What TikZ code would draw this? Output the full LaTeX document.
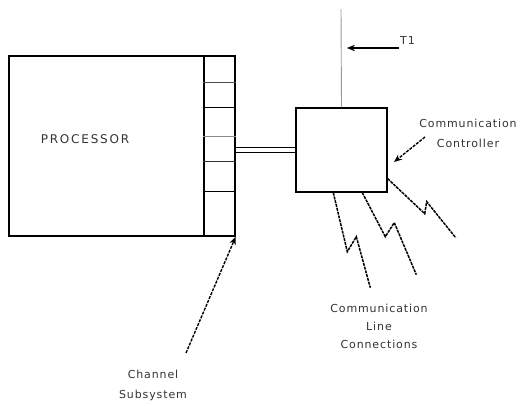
\documentclass[tikz,border=0pt]{standalone}
\usepackage{fontspec}
\setmainfont{DejaVu Sans}
\newfontfamily\spaced[LetterSpace=8]{DejaVu Sans}
\newfontfamily\wide[LetterSpace=15]{DejaVu Sans}
\usetikzlibrary{arrows.meta,calc}

\begin{document}
\begin{tikzpicture}[
  x=1pt, y=-1pt,
  font=\spaced\fontsize{11}{20}\selectfont,
  box/.style={draw, line width=1.4pt, inner sep=0pt},
  lbl/.style={text=black!80, align=center, inner sep=1pt},
  arrow/.style={-{Stealth[length=8pt,width=6.5pt]}, line width=1.5pt},
  dasharrow/.style={-{Stealth[length=8pt,width=6.5pt]}, line width=1.4pt,
                    dash pattern=on 3pt off 1.2pt},
  bolt/.style={line width=1.5pt, dash pattern=on 3pt off 0.9pt}
]
\useasboundingbox (0,0) rectangle (524,406);

\node[box, minimum width=195pt, minimum height=180pt] (proc) at (106.5,146) {};
\node[box, minimum width=31pt, minimum height=180pt] (chan) at (219.5,146) {};
\foreach \yy/\cc in {83/black!70,108/black,137/black!45,162/black!80,191/black}
  \draw[\cc, line width=1pt] (chan.west |- 0,\yy) -- (chan.east |- 0,\yy);
\node[lbl, font=\wide\fontsize{12}{14}\selectfont] (proclbl) at (85,139) {PROCESSOR};

\node[box, minimum width=91pt, minimum height=84pt] (ctrl) at (341.5,150) {};
\draw[double, double distance=4.5pt, line width=0.9pt] (chan.east |- ctrl.west) -- (ctrl.west);

\coordinate (top) at (341,9);
\draw[black!40, line width=0.9pt] (ctrl.north) -- (top);
\node[lbl, anchor=west] (t1) at (399,40) {T1};
\coordinate (t1tip) at (347,48);
\draw[arrow] (t1.west |- t1tip) -- (t1tip);

\node[lbl] (ctrllbl) at (468,133) {Communication\\Controller};
\coordinate (ctrltip) at (394,162);
\draw[dasharrow] (425,137) -- (ctrltip);

\draw[bolt] ([xshift=38pt]ctrl.south west) --++(14,59) --++(9,-15) --++(14,51);
\draw[bolt] ([xshift=67pt]ctrl.south west) --++(23,44) --++(9,-14) --++(22,52);
\draw[bolt] ([yshift=14pt]ctrl.south east) --++(37,35) --++(2,-12) --++(29,36);

\node[lbl, font=\spaced\fontsize{11}{18}\selectfont] (connlbl) at (379,326)
  {Communication\\Line\\Connections};

\node[lbl] (chanlbl) at (153,385) {Channel\\Subsystem};
\draw[dasharrow] (186,353) -- (chan.south east);
\end{tikzpicture}
\end{document}
